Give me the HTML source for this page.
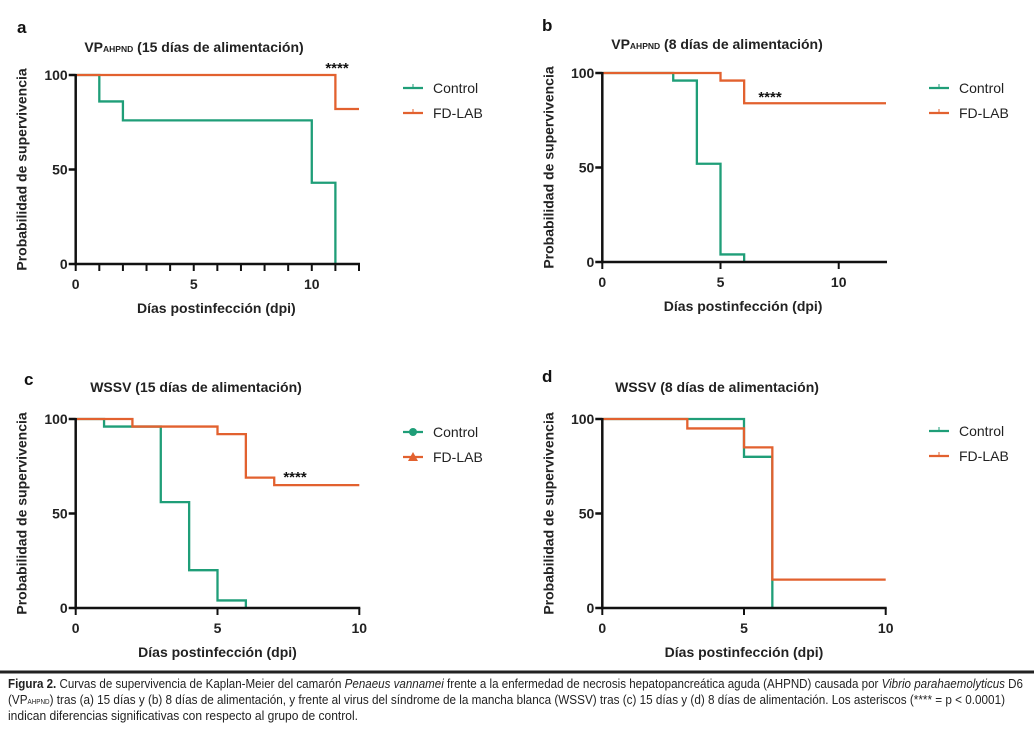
<!DOCTYPE html>
<html><head><meta charset="utf-8">
<style>
body{margin:0;background:#fff;width:1034px;height:739px;overflow:hidden}
svg{display:block;font-family:"Liberation Sans",sans-serif}
</style></head>
<body>
<svg id="fig" width="1034" height="739" viewBox="0 0 1034 739">
<rect width="1034" height="739" fill="#fff"/>
<line x1="0" y1="672" x2="1034" y2="672" stroke="#222" stroke-width="3"/>
<g font-size="13" fill="#222">
<text x="8" y="688" textLength="1015" lengthAdjust="spacingAndGlyphs"><tspan font-weight="bold">Figura 2.</tspan> Curvas de supervivencia de Kaplan-Meier del camarón <tspan font-style="italic">Penaeus vannamei</tspan> frente a la enfermedad de necrosis hepatopancreática aguda (AHPND) causada por <tspan font-style="italic">Vibrio parahaemolyticus</tspan> D6</text>
<text x="8" y="704" textLength="997" lengthAdjust="spacingAndGlyphs">(VP<tspan font-size="7">AHPND</tspan>)  tras (a) 15 días y (b) 8 días de alimentación, y frente al virus del síndrome de la mancha blanca (WSSV)  tras (c) 15 días y (d) 8 días de alimentación. Los asteriscos (**** = p &lt; 0.0001)</text>
<text x="8" y="720" textLength="350" lengthAdjust="spacingAndGlyphs">indican diferencias significativas con respecto al grupo de control.</text>
</g>
</svg>
<script>
const GREEN='#1f9e78', ORANGE='#e2612f';
// Panel a
const aCtrlTimes=[0,1,2,10,11], aCtrlVals=[100,86,76,43,0];
const aFdTimes=[0,11,12], aFdVals=[100,82,82];
// Panel b
const bCtrlTimes=[0,3,4,5,6], bCtrlVals=[100,96,52,4,0];
const bFdTimes=[0,5,6,12], bFdVals=[100,96,84,84];
// Panel c
const cCtrlTimes=[0,1,3,4,5,6], cCtrlVals=[100,96,56,20,4,0];
const cFdTimes=[0,2,5,6,7,10], cFdVals=[100,96,92,69,65,65];
// Panel d
const dCtrlTimes=[0,5,6], dCtrlVals=[100,80,0];
const dFdTimes=[0,3,5,6,10], dFdVals=[100,95,85,15,15];
const yTicks=[0,50,100];

const svg=document.getElementById('fig');
const NS='http://www.w3.org/2000/svg';
function el(tag,attrs,parent,txt){const e=document.createElementNS(NS,tag);for(const k in attrs)e.setAttribute(k,attrs[k]);if(txt!==undefined)e.textContent=txt;(parent||svg).appendChild(e);return e;}

const panels=[
 {id:'a',letter:'a',lx:17,ly:33,title:'15 días de alimentación',vp:true,tx:194,ty:52,x0:75.7,x1:359,xmax:12,xt:[0,5,10],minor:true,y100:75,y0:264,
  ctrl:[aCtrlTimes,aCtrlVals],fd:[aFdTimes,aFdVals],stars:[337,67],lgx:403,lgy:88,marker:'tick'},
 {id:'b',letter:'b',lx:542,ly:31,title:'8 días de alimentación',vp:true,tx:717,ty:49,x0:602.3,x1:886,xmax:12,xt:[0,5,10],minor:false,y100:73,y0:262,
  ctrl:[bCtrlTimes,bCtrlVals],fd:[bFdTimes,bFdVals],stars:[770,96],lgx:929,lgy:88,marker:'tick'},
 {id:'c',letter:'c',lx:24,ly:385,title:'WSSV (15 días de alimentación)',vp:false,tx:196,ty:392,x0:75.7,x1:359.3,xmax:10,xt:[0,5,10],minor:false,y100:419,y0:608,
  ctrl:[cCtrlTimes,cCtrlVals],fd:[cFdTimes,cFdVals],stars:[295,476],lgx:403,lgy:432,marker:'shape'},
 {id:'d',letter:'d',lx:542,ly:382,title:'WSSV (8 días de alimentación)',vp:false,tx:717,ty:392,x0:602.3,x1:885.7,xmax:10,xt:[0,5,10],minor:false,y100:419,y0:608,
  ctrl:[dCtrlTimes,dCtrlVals],fd:[dFdTimes,dFdVals],stars:null,lgx:929,lgy:431,marker:'tick'}
];

panels.forEach(p=>{
  const g=el('g',{});
  
  
  const xs=v=>p.x0+(p.x1-p.x0)*v/p.xmax;
  const ys=v=>p.y0+(p.y100-p.y0)*v/100;
  const lt=el('text',{x:p.lx,y:p.ly,'font-size':17,'font-weight':'bold',fill:'#111'},g,p.letter);
  
  
  const t=el('text',{x:p.tx,y:p.ty,'font-size':14,'font-weight':'bold','text-anchor':'middle',fill:'#222'},g);
  
  
  if(p.vp){el('tspan',{},t,'VP');el('tspan',{'font-size':8.5},t,'AHPND');el('tspan',{},t,' ('+p.title+')');}
  else t.textContent=p.title;
  [[p.ctrl,GREEN,'control'],[p.fd,ORANGE,'fd-lab']].forEach(([s,c,n])=>{
    const [ts,vs]=s;let d='M'+xs(ts[0])+','+ys(vs[0]);
    for(let i=1;i<ts.length;i++){d+=' H'+xs(ts[i])+' V'+ys(vs[i]);}
    const path=el('path',{d:d,fill:'none',stroke:c,'stroke-width':2.3},g);
    
    
  });
  el('line',{x1:p.x0,y1:p.y100-1,x2:p.x0,y2:p.y0+1.3,stroke:'#111','stroke-width':2.5},g);
  el('line',{x1:p.x0-1.2,y1:p.y0,x2:p.x1+1,y2:p.y0,stroke:'#111','stroke-width':2.5},g);
  yTicks.forEach(v=>{
    el('line',{x1:p.x0-7,y1:ys(v),x2:p.x0,y2:ys(v),stroke:'#111','stroke-width':2.5},g);
    const tl=el('text',{x:p.x0-8,y:ys(v)+5,'font-size':14,'font-weight':'bold','text-anchor':'end',fill:'#222'},g,String(v));
    
    
  });
  const step=p.minor?1:5;
  for(let v=0;v<=p.xmax;v+=step){
    el('line',{x1:xs(v),y1:p.y0,x2:xs(v),y2:p.y0+7,stroke:'#111','stroke-width':2},g);
  }
  p.xt.forEach(v=>{
    const tl=el('text',{x:xs(v),y:p.y0+25,'font-size':14,'font-weight':'bold','text-anchor':'middle',fill:'#222'},g,String(v));
    
    
  });
  const xl=el('text',{x:(p.x0+p.x1)/2+(p.xmax==12?-1:0),y:p.y0+49,'font-size':14,'font-weight':'bold','text-anchor':'middle',fill:'#222'},g,'Días postinfección (dpi)');
  
  
  const cy=(p.y0+p.y100)/2, cx=p.x0-49;
  const yl=el('text',{x:cx,y:cy,'font-size':14,'font-weight':'bold','text-anchor':'middle',fill:'#222',transform:'rotate(-90 '+cx+' '+cy+')'},g,'Probabilidad de supervivencia');
  
  
  if(p.stars){
    const st=el('text',{x:p.stars[0],y:p.stars[1]+6,'font-size':15,'font-weight':'bold','text-anchor':'middle',fill:'#111'},g,'****');
    
    
  }
  [['Control',GREEN,0],['FD-LAB',ORANGE,25]].forEach(([name,c,dy],i)=>{
    const lg=el('g',{},g);
    
    
    const y=p.lgy+dy;
    el('line',{x1:p.lgx,y1:y,x2:p.lgx+20,y2:y,stroke:c,'stroke-width':2.3},lg);
    if(p.marker==='tick') el('line',{x1:p.lgx+10,y1:y-4,x2:p.lgx+10,y2:y,stroke:c,'stroke-width':1},lg);
    else if(i===0) el('circle',{cx:p.lgx+10,cy:y,r:4,fill:c},lg);
    else el('path',{d:`M${p.lgx+10},${y-5} L${p.lgx+15},${y+4} L${p.lgx+5},${y+4} Z`,fill:c},lg);
    el('text',{x:p.lgx+30,y:y+5,'font-size':14,fill:'#222'},lg,name);
  });
});
</script>
</body></html>
